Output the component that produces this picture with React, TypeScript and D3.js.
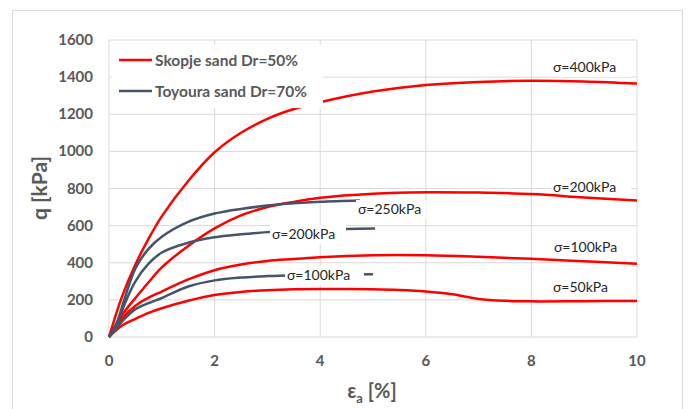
import React from "react";
import * as d3 from "d3";

// strain (%) and deviator stress q (kPa)
const skopje400 = [
  [0, 0], [0.25, 220], [0.5, 390], [0.75, 530], [1, 650], [1.5, 840], [2, 995], [2.5, 1100],
  [3, 1175], [3.5, 1228], [4, 1265], [5, 1322], [6, 1357], [7, 1374], [8, 1381], [9, 1377], [10, 1365],
];
const skopje200 = [
  [0, 0], [0.25, 120], [0.5, 210], [0.75, 295], [1, 375], [1.5, 490], [2, 585], [2.5, 655],
  [3, 700], [3.5, 728], [4, 750], [5, 772], [6, 780], [7, 778], [8, 770], [9, 752], [10, 735],
];
const skopje100 = [
  [0, 0], [0.25, 100], [0.5, 168], [0.75, 212], [1, 245], [1.5, 310], [2, 360], [2.5, 390],
  [3, 410], [3.5, 420], [4, 430], [5, 440], [6, 440], [7, 432], [8, 421], [9, 408], [10, 394],
];
const skopje50 = [
  [0, 0], [0.25, 62], [0.5, 98], [0.75, 130], [1, 155], [1.5, 195], [2, 226], [2.5, 243],
  [3, 252], [3.5, 257], [4, 259], [5, 257], [5.5, 253], [6, 245], [6.5, 230], [7, 205],
  [7.5, 195], [8, 192], [9, 193], [10, 194],
];
const toyoura250 = [
  [0, 0], [0.15, 80], [0.3, 210], [0.5, 370], [0.75, 475], [1, 540], [1.5, 620], [2, 665],
  [2.5, 690], [3, 708], [3.5, 720], [4, 728], [4.75, 735],
];
const toyoura200 = [
  [0, 0], [0.15, 70], [0.3, 180], [0.5, 300], [0.75, 395], [1, 455], [1.5, 508], [2, 537],
  [2.5, 553], [3, 565], [3.5, 573], [4, 578], [4.5, 582], [5.04, 585],
];
const toyoura100 = [
  [0, 0], [0.15, 50], [0.3, 100], [0.5, 150], [0.75, 182], [1, 210], [1.5, 272], [2, 305],
  [2.5, 320], [3, 328], [3.5, 333], [4, 336], [5, 338],
];

const redSeries = [skopje400, skopje200, skopje100, skopje50];
const graySeries = [toyoura250, toyoura200, toyoura100];
const legendNames = ["Skopje sand Dr=50%", "Toyoura sand Dr=70%"];
const xTicks = [0, 2, 4, 6, 8, 10];
const yTicks = [0, 200, 400, 600, 800, 1000, 1200, 1400, 1600];

const RED = "#ff0000";
const GRAY = "#44546a";
const TEXT = "#595959";
const GRID = "#d9d9d9";
const FONT = "Lato, 'Open Sans', sans-serif";

export default function App() {
  const x = d3.scaleLinear().domain([0, 10]).range([109, 637]);
  const y = d3.scaleLinear().domain([0, 1600]).range([337, 40]);
  const line = d3
    .line<number[]>()
    .x((d) => x(d[0]))
    .y((d) => y(d[1]))
    .curve(d3.curveCatmullRom.alpha(0.5));

  // data labels: [text, left x, baseline y, box width]
  const redLabels: [string, number, number, number][] = [
    ["σ=400kPa", 553, 72, 80],
    ["σ=200kPa", 553, 192, 80],
    ["σ=100kPa", 554, 252, 80],
    ["σ=50kPa", 553, 292, 72],
  ];
  const grayLabels: [string, number, number, number][] = [
    ["σ=250kPa", 358, 214, 70],
    ["σ=200kPa", 272, 239, 76],
    ["σ=100kPa", 287, 280, 79],
  ];

  const label = (l: [string, number, number, number], i: number, key: string) => (
    <g key={key + i}>
      <rect x={l[1] - 2} y={l[2] - 14} width={l[3]} height={19} fill="white" />
      <text x={l[1]} y={l[2]} fontSize={14} fill="#262626" fontFamily={FONT}>
        {l[0]}
      </text>
    </g>
  );

  return (
    <svg width={690} height={409} style={{ position: "absolute", left: 0, top: 0 }}>
      <rect x={0} y={0} width={690} height={409} fill="white" />
      <rect x={12.5} y={10.5} width={670} height={420} fill="white" stroke={GRID} />

      {yTicks.map((t) => (
        <line key={"gy" + t} x1={x(0)} x2={x(10)} y1={y(t)} y2={y(t)} stroke={GRID} strokeWidth={1} />
      ))}
      {xTicks.map((t) => (
        <line key={"gx" + t} x1={x(t)} x2={x(t)} y1={y(0)} y2={y(1600)} stroke={GRID} strokeWidth={1} />
      ))}

      {redLabels.map((l, i) => label(l, i, "r"))}

      {redSeries.map((s, i) => (
        <path key={"r" + i} d={line(s) || ""} fill="none" stroke={RED} strokeWidth={2.5} />
      ))}
      {graySeries.map((s, i) => (
        <path key={"g" + i} d={line(s) || ""} fill="none" stroke={GRAY} strokeWidth={2.5} />
      ))}

      {grayLabels.map((l, i) => label(l, i, "g"))}

      {yTicks.map((t) => (
        <text key={"ty" + t} x={93} y={y(t) + 5} textAnchor="end" fontSize={15} fontWeight="bold" fill={TEXT} fontFamily={FONT}>
          {t}
        </text>
      ))}
      {xTicks.map((t) => (
        <text key={"tx" + t} x={x(t)} y={366} textAnchor="middle" fontSize={15} fontWeight="bold" fill={TEXT} fontFamily={FONT}>
          {t}
        </text>
      ))}

      <text transform="translate(47,188) rotate(-90)" textAnchor="middle" fontSize={21} fontWeight="bold" fill={TEXT} fontFamily={FONT}>
        q [kPa]
      </text>
      <text x={372} y={398} textAnchor="middle" fontSize={20} fontWeight="bold" fill={TEXT} fontFamily={FONT}>
        ε<tspan fontSize={13} dy={5}>a</tspan>
        <tspan dy={-5}> [%]</tspan>
      </text>

      <rect x={112} y={45} width={211} height={63} fill="white" />
      {legendNames.map((n, i) => (
        <g key={n}>
          <line x1={119} x2={152} y1={60 + i * 31} y2={60 + i * 31} stroke={i === 0 ? RED : GRAY} strokeWidth={2.5} />
          <text x={155} y={65.5 + i * 31} fontSize={15.5} fontWeight="bold" fill={TEXT} fontFamily={FONT}>
            {n}
          </text>
        </g>
      ))}
    </svg>
  );
}
